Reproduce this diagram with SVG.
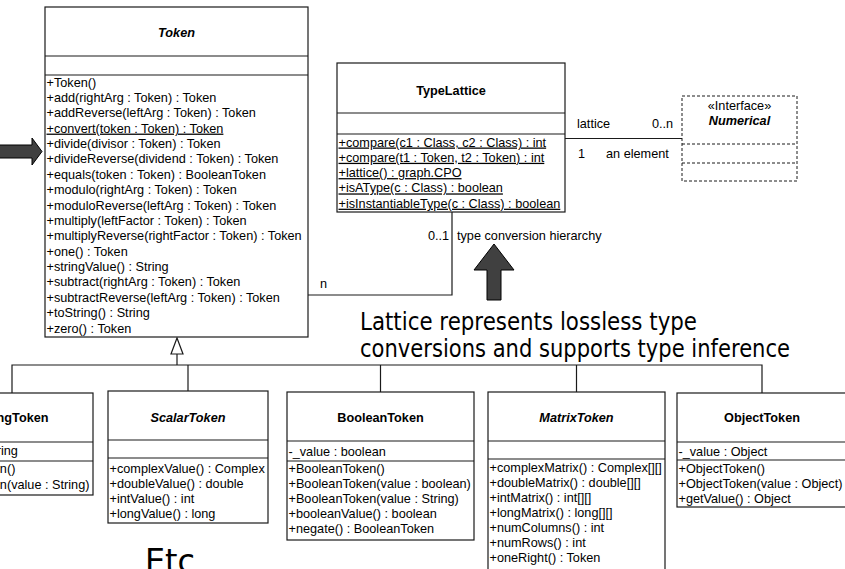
<svg xmlns="http://www.w3.org/2000/svg" width="845" height="569" viewBox="0 0 845 569">
  <style>
    text { font-family: "Liberation Sans", Arial, sans-serif; font-size: 12.7px; fill: #000; }
    .title { font-weight: bold; text-anchor: middle; }
    .abstract { font-weight: bold; font-style: italic; text-anchor: middle; }
    .static { text-decoration: underline; }
    .box { fill: #fff; stroke: #1a1a1a; stroke-width: 1.2; }
    .sep { stroke: #1a1a1a; stroke-width: 1.2; fill: none; }
    .dbox { fill: #fff; stroke: #1a1a1a; stroke-width: 1; stroke-dasharray: 3 2; }
    .dsep { stroke: #1a1a1a; stroke-width: 1; stroke-dasharray: 3 2; fill: none; }
    .wire { stroke: #1a1a1a; stroke-width: 1.2; fill: none; }
    .big { fill: #404040; stroke: #000; stroke-width: 1; }
    text.hand { font-family: "DejaVu Sans", sans-serif; font-size: 24px; }
    text.hand-big { font-family: "DejaVu Sans", sans-serif; font-size: 34px; }
  </style>

  <!-- connectors -->
  <g id="connectors">
    <!-- generalization tree to Token -->
    <polyline class="wire" points="12,393 12,365 762,365 762,393"/>
    <line class="wire" x1="188" y1="365" x2="188" y2="391"/>
    <line class="wire" x1="380.5" y1="365" x2="380.5" y2="392"/>
    <line class="wire" x1="576.5" y1="365" x2="576.5" y2="392"/>
    <line class="wire" x1="177" y1="365" x2="177" y2="354"/>
    <polygon points="177,338 171,354 183,354" fill="#fff" stroke="#1a1a1a" stroke-width="1.2"/>
    <!-- Token / TypeLattice association -->
    <polyline class="wire" points="308,295 452,295 452,212"/>
    <text x="320" y="287.5">n</text>
    <text x="428" y="239.5">0..1</text>
    <text x="457" y="239.5">type conversion hierarchy</text>
    <!-- TypeLattice / Numerical association -->
    <line class="wire" x1="565" y1="138.5" x2="682" y2="138.5"/>
    <text x="577" y="127.5">lattice</text>
    <text x="652" y="127.5">0..n</text>
    <text x="578" y="157.5">1</text>
    <text x="606" y="157.5">an element</text>
  </g>

  <!-- Token -->
  <g id="Token">
    <rect class="box" x="45" y="7" width="263" height="330"/>
    <line class="sep" x1="45" y1="56" x2="308" y2="56"/>
    <line class="sep" x1="45" y1="75" x2="308" y2="75"/>
    <text class="abstract" x="176.5" y="36.5">Token</text>
    <text x="46.5" y="86.5">+Token()</text>
    <text x="46.5" y="101.9">+add(rightArg : Token) : Token</text>
    <text x="46.5" y="117.3">+addReverse(leftArg : Token) : Token</text>
    <text x="46.5" y="132.6" class="static">+convert(token : Token) : Token</text>
    <text x="46.5" y="148">+divide(divisor : Token) : Token</text>
    <text x="46.5" y="163.4">+divideReverse(dividend : Token) : Token</text>
    <text x="46.5" y="178.8">+equals(token : Token) : BooleanToken</text>
    <text x="46.5" y="194.1">+modulo(rightArg : Token) : Token</text>
    <text x="46.5" y="209.5">+moduloReverse(leftArg : Token) : Token</text>
    <text x="46.5" y="224.9">+multiply(leftFactor : Token) : Token</text>
    <text x="46.5" y="240.3">+multiplyReverse(rightFactor : Token) : Token</text>
    <text x="46.5" y="255.6">+one() : Token</text>
    <text x="46.5" y="271">+stringValue() : String</text>
    <text x="46.5" y="286.4">+subtract(rightArg : Token) : Token</text>
    <text x="46.5" y="301.8">+subtractReverse(leftArg : Token) : Token</text>
    <text x="46.5" y="317.1">+toString() : String</text>
    <text x="46.5" y="332.5">+zero() : Token</text>
  </g>

  <!-- TypeLattice -->
  <g id="TypeLattice">
    <rect class="box" x="337" y="63" width="228" height="149"/>
    <line class="sep" x1="337" y1="113" x2="565" y2="113"/>
    <line class="sep" x1="337" y1="134" x2="565" y2="134"/>
    <text class="title" x="451" y="94.5">TypeLattice</text>
    <text x="338.5" y="146.5" class="static">+compare(c1 : Class, c2 : Class) : int</text>
    <text x="338.5" y="161.8" class="static">+compare(t1 : Token, t2 : Token) : int</text>
    <text x="338.5" y="177.1" class="static">+lattice() : graph.CPO</text>
    <text x="338.5" y="192.4" class="static">+isAType(c : Class) : boolean</text>
    <text x="338.5" y="207.7" class="static">+isInstantiableType(c : Class) : boolean</text>
  </g>

  <!-- Numerical interface -->
  <g id="Numerical">
    <rect class="dbox" x="682" y="96" width="115" height="85"/>
    <line class="dsep" x1="682" y1="144" x2="797" y2="144"/>
    <line class="dsep" x1="682" y1="163" x2="797" y2="163"/>
    <text x="739.5" y="109.5" text-anchor="middle">«Interface»</text>
    <text class="abstract" x="739.5" y="124.5">Numerical</text>
  </g>

  <!-- StringToken -->
  <g id="StringToken">
    <rect class="box" x="-69" y="393" width="162" height="102"/>
    <line class="sep" x1="-69" y1="442" x2="93" y2="442"/>
    <line class="sep" x1="-69" y1="461" x2="93" y2="461"/>
    <text class="title" x="12" y="421.5">StringToken</text>
    <text x="-67.5" y="455">-_value : String</text>
    <text x="-67.5" y="472.5">+StringToken()</text>
    <text x="-67.5" y="488.5">+StringToken(value : String)</text>
  </g>

  <!-- ScalarToken -->
  <g id="ScalarToken">
    <rect class="box" x="108" y="391" width="160" height="132"/>
    <line class="sep" x1="108" y1="440" x2="268" y2="440"/>
    <line class="sep" x1="108" y1="458" x2="268" y2="458"/>
    <text class="abstract" x="188" y="421.5">ScalarToken</text>
    <text x="109.5" y="472.5">+complexValue() : Complex</text>
    <text x="109.5" y="487.5">+doubleValue() : double</text>
    <text x="109.5" y="502.5">+intValue() : int</text>
    <text x="109.5" y="518">+longValue() : long</text>
  </g>

  <!-- BooleanToken -->
  <g id="BooleanToken">
    <rect class="box" x="287" y="392" width="187" height="148"/>
    <line class="sep" x1="287" y1="441" x2="474" y2="441"/>
    <line class="sep" x1="287" y1="461" x2="474" y2="461"/>
    <text class="title" x="380.5" y="421.5">BooleanToken</text>
    <text x="288.5" y="455.5">-_value : boolean</text>
    <text x="288.5" y="472.5">+BooleanToken()</text>
    <text x="288.5" y="487.5">+BooleanToken(value : boolean)</text>
    <text x="288.5" y="502.5">+BooleanToken(value : String)</text>
    <text x="288.5" y="518">+booleanValue() : boolean</text>
    <text x="288.5" y="533">+negate() : BooleanToken</text>
  </g>

  <!-- MatrixToken -->
  <g id="MatrixToken">
    <rect class="box" x="488" y="392" width="177" height="190"/>
    <line class="sep" x1="488" y1="441" x2="665" y2="441"/>
    <line class="sep" x1="488" y1="459" x2="665" y2="459"/>
    <text class="abstract" x="576.5" y="421.5">MatrixToken</text>
    <text x="489.5" y="471.5">+complexMatrix() : Complex[][]</text>
    <text x="489.5" y="486.5">+doubleMatrix() : double[][]</text>
    <text x="489.5" y="501.5">+intMatrix() : int[][]</text>
    <text x="489.5" y="516.5">+longMatrix() : long[][]</text>
    <text x="489.5" y="531.5">+numColumns() : int</text>
    <text x="489.5" y="546.5">+numRows() : int</text>
    <text x="489.5" y="561.5">+oneRight() : Token</text>
  </g>

  <!-- ObjectToken -->
  <g id="ObjectToken">
    <rect class="box" x="677" y="393" width="170" height="114"/>
    <line class="sep" x1="677" y1="442" x2="847" y2="442"/>
    <line class="sep" x1="677" y1="460" x2="847" y2="460"/>
    <text class="title" x="762" y="421.5">ObjectToken</text>
    <text x="678.5" y="455.5">-_value : Object</text>
    <text x="678.5" y="472.5">+ObjectToken()</text>
    <text x="678.5" y="487.5">+ObjectToken(value : Object)</text>
    <text x="678.5" y="502.5">+getValue() : Object</text>
  </g>

  <!-- callout arrows -->
  <g id="arrow-convert">
    <polygon class="big" points="-1,145 32,145 32,138 42,151.5 32,165 32,158 -1,158"/>
  </g>
  <g id="arrow-lattice">
    <polygon class="big" points="494,244 514,270 501,270 501,300 487,300 487,270 474,270"/>
  </g>

  <!-- notes -->
  <g id="note-lattice">
    <text class="hand" x="360" y="330" textLength="337" lengthAdjust="spacingAndGlyphs">Lattice represents lossless type</text>
    <text class="hand" x="360" y="357" textLength="430" lengthAdjust="spacingAndGlyphs">conversions and supports type inference</text>
  </g>
  <g id="note-etc">
    <text class="hand-big" x="145" y="573" textLength="50" lengthAdjust="spacingAndGlyphs">Etc</text>
  </g>
</svg>
